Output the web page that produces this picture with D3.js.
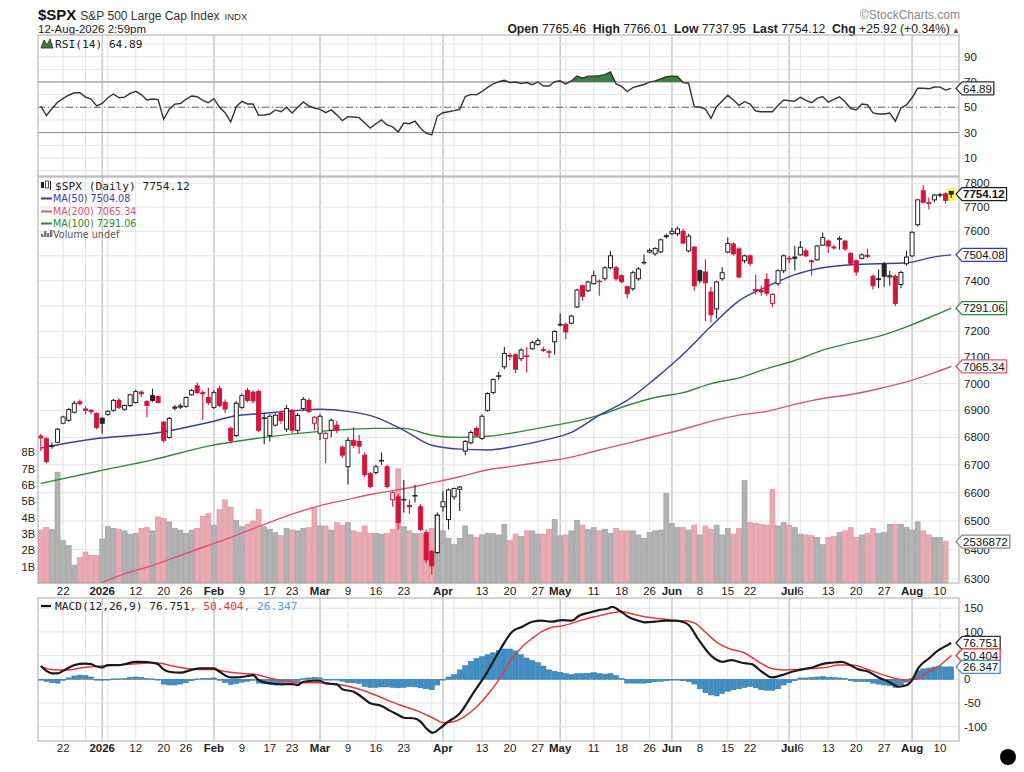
<!DOCTYPE html>
<html>
<head>
<meta charset="utf-8">
<title>$SPX Daily</title>
<script src="https://cdn.jsdelivr.net/npm/d3@7"></script>
<style>
  body { margin: 0; background: #fff; }
  svg { display: block; }
  text { white-space: pre; }
</style>
</head>
<body>
<div class="chart"></div>
<script>
/* Data */

//Trading calendar (the category axis)
var firstDay = "2025-12-16";
var lastDay = "2026-08-12";
var holidays = ["2025-12-25", "2026-01-01", "2026-01-19", "2026-02-16", "2026-04-03", "2026-05-25", "2026-06-19", "2026-07-03"];

//Daily candles: [open, high, low, close]
var ohlc = [
  [6805,6812,6750,6798],[6795,6800,6705,6712],[6770,6782,6758,6768],[6782,6835,6778,6830],[6852,6880,6848,6875],
  [6863,6910,6858,6903],[6893,6935,6888,6926],[6932,6940,6918,6925],[6905,6915,6885,6900],[6900,6905,6885,6895],
  [6889,6892,6830,6837],[6870,6875,6815,6852],[6885,6900,6880,6896],[6900,6942,6895,6937],[6937,6945,6905,6911],
  [6904,6922,6898,6918],[6918,6962,6912,6958],[6929,6978,6925,6970],[6968,6975,6950,6962],[6933,6938,6874,6918],
  [6955,6981,6932,6937],[6951,6955,6925,6929],[6856,6860,6780,6789],[6800,6875,6795,6870],[6908,6920,6900,6912],
  [6912,6925,6905,6916],[6915,6952,6910,6948],[6958,6980,6955,6974],[6992,7004,6960,6966],[6966,6975,6865,6962],
  [6948,6985,6920,6929],[6911,6975,6905,6966],[6981,6992,6912,6918],[6930,6940,6890,6905],[6833,6840,6778,6789],
  [6807,6935,6800,6926],[6911,6962,6905,6955],[6974,6985,6930,6937],[6968,6975,6925,6935],[6970,6978,6820,6826],
  [6872,6890,6775,6870],[6807,6885,6785,6878],[6845,6888,6840,6882],[6890,6900,6850,6862],[6830,6920,6820,6907],
  [6900,6905,6815,6826],[6826,6890,6815,6881],[6907,6950,6900,6941],[6937,6945,6890,6896],[6852,6880,6826,6874],
  [6815,6885,6790,6878],[6796,6820,6707,6815],[6826,6870,6800,6863],[6845,6860,6815,6826],[6764,6770,6725,6735],
  [6693,6800,6630,6789],[6789,6837,6760,6771],[6785,6810,6740,6768],[6735,6745,6655,6665],[6668,6675,6615,6622],
  [6672,6700,6665,6693],[6715,6745,6700,6716],[6693,6700,6615,6622],[6575,6605,6550,6600],[6585,6595,6470,6495],
  [6574,6645,6530,6576],[6555,6575,6525,6550],[6588,6628,6565,6590],[6550,6560,6465,6470],[6460,6470,6355,6365],
  [6394,6400,6315,6345],[6390,6530,6385,6520],[6550,6605,6532,6568],[6505,6615,6470,6610],[6585,6618,6575,6615],
  [6612,6625,6535,6620],[6750,6790,6735,6785],[6780,6825,6775,6818],[6833,6840,6800,6808],[6796,6885,6790,6878],
  [6900,6968,6895,6963],[6967,7020,6960,7016],[7028,7045,7015,7030],[7064,7140,7055,7115],[7108,7118,7090,7104],
  [7110,7115,7040,7055],[7095,7135,7085,7128],[7106,7140,7042,7104],[7133,7165,7128,7157],[7150,7175,7145,7165],
  [7130,7140,7120,7127],[7122,7130,7098,7120],[7160,7205,7110,7200],[7225,7270,7220,7228],[7228,7235,7170,7198],
  [7232,7265,7228,7260],[7296,7368,7292,7363],[7380,7385,7320,7338],[7360,7400,7355,7395],[7388,7440,7385,7420],
  [7398,7405,7340,7396],[7408,7458,7400,7452],[7452,7520,7445,7500],[7452,7460,7400,7408],[7420,7425,7390,7396],
  [7376,7380,7330,7348],[7368,7440,7360,7432],[7408,7455,7400,7447],[7472,7505,7465,7474],[7515,7530,7510,7522],
  [7508,7535,7500,7530],[7516,7570,7510,7565],[7578,7590,7570,7582],[7590,7615,7585,7600],[7590,7620,7580,7610],
  [7600,7610,7548,7552],[7520,7590,7515,7580],[7535,7540,7360,7380],[7440,7445,7390,7400],[7435,7485,7240,7392],
  [7355,7375,7235,7265],[7288,7400,7250,7395],[7408,7455,7400,7432],[7515,7575,7510,7550],[7548,7555,7500,7508],
  [7528,7535,7410,7415],[7480,7505,7470,7500],[7500,7505,7460,7470],[7365,7425,7345,7360],[7362,7380,7340,7355],
  [7405,7430,7340,7350],[7310,7350,7295,7345],[7388,7445,7380,7440],[7440,7505,7430,7500],[7490,7500,7470,7487],
  [7495,7540,7440,7490],[7504,7560,7500,7535],[7520,7530,7495,7500],[7480,7485,7420,7476],[7484,7545,7480,7540],
  [7543,7595,7540,7574],[7560,7565,7510,7540],[7536,7545,7525,7532],[7568,7580,7525,7570],[7560,7565,7520,7528],
  [7510,7515,7460,7470],[7480,7485,7420,7435],[7490,7510,7485,7504],[7502,7530,7490,7498],[7418,7425,7365,7380],
  [7405,7445,7370,7408],[7466,7475,7375,7418],[7415,7440,7380,7420],[7418,7425,7300,7310],[7385,7440,7370,7433],
  [7468,7520,7460,7495],[7500,7600,7495,7596],[7627,7735,7620,7730],[7768,7792,7715,7720],[7718,7740,7690,7715],
  [7730,7755,7720,7750],[7752,7760,7740,7752],[7755,7762,7715,7728.2],[7765.46,7766.01,7737.95,7754.12]
];

//Volume, billions of shares (last day undefined)
var volumes = [
  3.25,3.4,3.3,6.8,2.6,2.3,1.1,1.55,1.9,1.7,
  1.7,2.7,3.45,3.35,3.3,3.2,3.0,3.05,3.35,3.4,
  3.2,4.05,3.95,3.75,3.35,3.25,3.05,3.25,3.35,4.1,
  4.25,3.55,4.5,5.1,4.65,3.85,3.45,3.6,3.8,4.5,
  3.45,3.3,3.1,2.9,3.35,3.25,3.2,3.35,3.4,4.6,
  3.5,3.5,3.25,3.7,3.55,3.7,3.2,3.1,3.5,3.05,
  3.05,3.0,3.05,3.3,7.0,3.45,3.2,3.05,3.05,2.95,
  3.35,4.2,3.2,2.75,2.35,2.75,3.5,2.95,2.8,2.95,
  3.05,3.05,2.95,3.6,2.6,3.0,2.85,3.2,3.2,3.0,
  3.0,3.3,3.9,2.9,2.95,3.2,3.85,3.55,3.3,3.4,
  3.2,3.3,3.05,3.35,3.2,3.2,3.2,2.95,2.75,3.1,
  3.2,3.25,5.5,3.65,3.4,3.4,3.25,3.55,2.95,3.5,
  3.3,3.55,2.95,3.35,3.0,3.35,6.3,3.7,3.65,3.6,
  3.55,5.75,3.5,3.7,3.55,3.4,3.0,2.95,2.9,2.8,
  2.35,2.8,2.85,3.1,3.2,3.4,2.8,2.95,3.05,3.35,
  3.05,3.1,3.6,3.6,3.6,3.4,3.25,3.75,3.2,2.95,
  2.8,2.8,2.55,null
];

//RSI(14), one value per day
var rsiValues = [
  51,43.5,49,54,57,59.5,61.5,61.5,58,56.5,
  51,53,57.5,60.5,57.5,58,61,62.6,60,55.7,
  56.5,56,40.5,48.5,52.5,53,56.3,58.9,58.3,55.5,
  53.6,56.8,50,45.7,38.4,50.5,54.7,52.6,52.6,43.7,
  43.9,44.7,47.9,46.5,50,45.5,50,54.2,51,49.4,
  48.4,45.7,47.9,44,39.4,42.6,42.3,41.8,37.5,33.5,
  37,40,36,34.5,30.5,37.5,37,39,33.5,29.5,
  28.2,43,45.7,46.5,47.3,48.4,58.5,60.2,59.8,62.5,
  65.7,68.5,70.2,71.3,69.5,70,68.8,69.5,67.8,70,
  66.8,66.8,70.2,70.9,68.5,70.8,74.6,73,74.6,74.6,
  75,75.8,78,68.5,66.5,62.3,65.5,66.8,68,69.9,
  70.9,72.5,74.1,74.6,74.3,69.5,69,50.3,50.2,48.5,
  41.3,50.5,55,59.5,55.7,51.5,54.4,52.6,47,46.5,
  46.5,46.5,51.5,55.7,55.2,55,57.9,55.5,53.6,57,
  58.5,54,56.3,58.3,54.4,49,47.9,52.6,52,45.5,
  44.7,44.7,45.5,39,49.5,51.8,57.5,65,65,64.6,
  66,65.9,63.6,64.89
];

//Moving averages read at [day index, value]
var ma50Points = [[0,6761],[10,6796],[20,6814],[30,6855],[35,6880],[40,6889],[45,6898],[50,6904],[55,6896],[60,6874],
  [65,6826],[70,6771],[75,6757],[80,6754],[85,6768],[90,6789],[95,6818],[100,6882],[105,6937],[110,7019],
  [115,7112],[120,7220],[125,7320],[130,7376],[135,7424],[140,7452],[145,7464],[150,7468],[155,7472],[160,7496],[163,7504.08]];
var ma100Points = [[0,6633],[10,6676],[20,6718],[30,6768],[40,6800],[50,6822],[60,6833],[65,6833],[70,6808],[75,6800],
  [80,6804],[85,6818],[90,6837],[95,6856],[100,6882],[105,6918],[110,6948],[115,6966],[120,7000],[125,7022],
  [130,7057],[135,7088],[140,7128],[145,7156],[150,7181],[155,7218],[160,7263],[163,7291.06]];
var ma200Points = [[10,6280],[15,6317],[20,6346],[25,6380],[30,6415],[35,6450],[40,6488],[45,6524],[50,6554],[55,6576],
  [60,6597],[65,6614],[70,6635],[75,6657],[80,6682],[85,6696],[90,6711],[95,6728],[100,6754],[105,6778],
  [110,6804],[115,6830],[120,6859],[125,6882],[130,6896],[135,6922],[140,6944],[145,6959],[150,6981],[155,7007],
  [160,7042],[163,7065.34]];

//MACD(12,26,9) lines read at [day index, value]
var macdPoints = [[0,28],[1,18],[2,12.6],[3,12.6],[4,18],[6,30],[8,33],[9,32],[10,27],[11,25],[12,30],[14,30],[15,32],
  [17,37],[18,37],[20,35],[21,32],[22,21],[23,16],[25,14],[27,20],[28.5,23],[31,23],[32,16],[34,4],[35,4],[37,7],[38,9],
  [39,-1.5],[41,-8.5],[43,-10.5],[45,-10],[46,-12],[47,-5],[49,-3],[50,-3],[51,-8.5],[53,-10.5],[54,-21],[56,-26],[57,-33],
  [59,-50.6],[61,-56],[62.5,-66],[64,-75],[65,-81],[66.7,-82],[68,-89],[69,-103],[70.2,-112.6],[71.5,-103],[72.7,-91.5],
  [75,-72],[77.4,-29.5],[79.8,12.6],[82.2,61.8],[84.4,100.4],[86.2,111],[88,121.5],[89.7,123.6],[91.5,121.5],[93.3,125],
  [95.1,123.6],[96.3,133.5],[98.1,140.5],[99.9,146],[101.7,150],[102.3,153],[103.5,146],[105.3,131],[107,123.6],[108.2,120],
  [110,121.5],[111.8,123.6],[113.6,123.6],[114.8,121.5],[116,114.6],[117.8,83],[120.2,47.7],[122,37],[123.7,40.7],[125.5,35],
  [127.3,32],[129.1,16],[130.9,4],[132.7,9],[134.5,16],[136.3,21],[138.1,25],[139.9,32],[141.6,35],[143.4,37],[144.6,32],
  [146.4,21],[148.2,16],[150,4],[151.8,-5],[153.6,-15.6],[155.1,-12],[156,-1.5],[157.2,25],[159,44],[160.8,62],[162,70],[163,76.751]];
var signalPoints = [[0,28],[1.7,21],[4.7,19.6],[7.6,25],[10.6,28],[13.6,30],[16.6,32.3],[19.6,35],[21.4,33.7],[23.7,28],
  [26.1,23],[28.5,21],[30.9,21],[33.3,16],[35.7,12.6],[38.1,11.2],[40.5,4.2],[43.4,-3],[46.4,-7],[50,-7],[52.4,-10],
  [55.4,-15.5],[58.4,-26],[61.3,-40],[64.3,-54],[67.3,-66],[70.3,-82],[72.1,-91.5],[73.9,-89.4],[76.3,-75],[79.2,-43.6],
  [82.2,2],[84.4,44.3],[86.2,68.8],[88,86.5],[89.7,100.4],[91.5,109.7],[93.3,112.5],[95.1,118],[96.9,125],[98.7,130.8],
  [100.5,135.7],[102.3,140.5],[104.1,142.6],[105.9,137.8],[108.2,132],[110,128.7],[111.8,126.6],[113.6,123.6],[115.4,123.6],
  [117.2,118],[118.9,100.4],[121.3,76],[123.1,65.4],[126.1,55],[128.5,37],[130.9,23],[133.3,19.6],[135.7,21],[138.1,23],
  [140.5,25],[142.9,30],[145.3,30],[147.6,23],[150,12.6],[152.4,4],[154.8,-1.5],[156.6,0],[158.4,12.6],[160.8,28],[163,50.404]];

//MACD histogram, one value per day
var histValues = [
  -1,-4,-7,-8,-2,3,7,9,8,5,
  -1,-2,0,1,1,2,4,5,4,2,
  1,-1,-10,-12,-12,-10,-7,-3,1,2,
  2,3,-2,-7,-11,-9,-6,-4,-2,-8,
  -9,-10,-10,-8,-6,-5,-4,2,3,4,
  3,0,-1,-1,-4,-7,-7,-9,-15,-17,
  -17,-16,-16,-17,-18,-17,-15,-16,-18,-20,
  -22,-12,0,5,10,20,29,38,44,48,
  52,56,61,64,64,60,52,45,40,35,
  28,20,17,15,12,10,12,12,13,14,
  12,11,12,8,2,-8,-8,-8,-8,-7,
  -5,-4,-3,-1,-1,-3,-5,-10,-20,-28,
  -33,-35,-30,-25,-22,-20,-17,-15,-18,-22,
  -23,-23,-20,-12,-7,-3,3,3,4,5,
  6,4,4,3,2,-3,-5,-5,-5,-8,
  -10,-12,-13,-17,-12,-6,2,18,22,24,
  26,27,26,26.347
];

//Tick labels
var dateLabels = [["2025-12-22","22"],["2026-01-02","2026"],["2026-01-12","12"],["2026-01-20","20"],["2026-01-26","26"],
  ["2026-02-02","Feb"],["2026-02-09","9"],["2026-02-17","17"],["2026-02-23","23"],["2026-03-02","Mar"],["2026-03-09","9"],
  ["2026-03-16","16"],["2026-03-23","23"],["2026-04-01","Apr"],["2026-04-13","13"],["2026-04-20","20"],["2026-04-27","27"],
  ["2026-05-01","May"],["2026-05-11","11"],["2026-05-18","18"],["2026-05-26","26"],["2026-06-01","Jun"],["2026-06-08","8"],
  ["2026-06-15","15"],["2026-06-22","22"],["2026-07-01","Jul"],["2026-07-06","6"],["2026-07-13","13"],["2026-07-20","20"],
  ["2026-07-27","27"],["2026-08-03","Aug"],["2026-08-10","10"]];
var priceTicks = [6300,6400,6500,6600,6700,6800,6900,7000,7100,7200,7300,7400,7500,7600,7700,7800];
var volumeTicks = [1,2,3,4,5,6,7,8];
var rsiTicks = [10,30,50,70,90];
var rsiGrid = [0,10,20,30,40,50,60,70,80,90,100];
var macdTicks = [-100,-50,0,50,100,150];

//Header texts
var quoteLabels = ["Open","High","Low","Last","Chg"];
var quoteValues = ["7765.46","7766.01","7737.95","7754.12","+25.92 (+0.34%)"];
var lastValues = { rsi: 64.89, close: 7754.12, ma50: 7504.08, ma100: 7291.06, ma200: 7065.34, volume: 2536872, macd: 76.751, signal: 50.404, hist: 26.347 };


/* Page layout */
var configuration = {
  width: 1024, height: 772,
  left: 38, right: 959,
  rsiTop: 35, rsiBottom: 176,
  priceTop: 177, priceBottom: 583,
  macdTop: 598, macdBottom: 741
};
Object.freeze(configuration);

var SANS = "'Liberation Sans', Arial, sans-serif";
var MONO = "'DejaVu Sans Mono', monospace";
var VERD = "'DejaVu Sans', Verdana, sans-serif";
var RED = "#d3143c";
var DARK = "#222";

var cfg = configuration;
var parseDay = d3.utcParse("%Y-%m-%d");
var fmtDay = d3.utcFormat("%Y-%m-%d");

//Build trading days
var days = d3.utcDay.range(parseDay(firstDay), d3.utcDay.offset(parseDay(lastDay), 1))
  .filter(function(d) { return d.getUTCDay() > 0 && d.getUTCDay() < 6 && holidays.indexOf(fmtDay(d)) < 0; });
var dayIndex = {};
days.forEach(function(d, i) { dayIndex[fmtDay(d)] = i; });

var bars = ohlc.map(function(r, i) {
  var prev = i > 0 ? ohlc[i - 1][3] : r[0];
  return { i: i, o: r[0], h: r[1], l: r[2], c: r[3], down: r[3] < prev, vol: volumes[i] };
});

//Scales
var x = d3.scaleLinear().domain([-0.5, 164.4]).range([cfg.left, cfg.right]);
var yPrice = d3.scaleLog().domain([6286, 7826]).range([cfg.priceBottom, cfg.priceTop]);
var yVol = d3.scaleLinear().domain([0, 24.9]).range([cfg.priceBottom, cfg.priceTop]);
var yRsi = d3.scaleLinear().domain([-4.3, 107.1]).range([cfg.rsiBottom, cfg.rsiTop]);
var yMacd = d3.scaleLinear().domain([-130, 171.5]).range([cfg.macdBottom, cfg.macdTop]);

//Right-edge tags (positions come from the scales), used to hide axis labels they cover
var tags = [
  [yRsi(lastValues.rsi), "64.89", "#333", false],
  [yPrice(lastValues.close), "7754.12", "#222", true],
  [yPrice(lastValues.ma50), "7504.08", "#3b3ba6", false],
  [yPrice(lastValues.ma100), "7291.06", "#2f8a34", false],
  [yPrice(lastValues.ma200), "7065.34", "#e4506b", false],
  [yVol(lastValues.volume / 1e6), "2536872", "#888", false],
  [yMacd(lastValues.macd), "76.751", "#333", false],
  [yMacd(lastValues.signal), "50.404", "#f03535", false],
  [yMacd(lastValues.hist), "26.347", "#4a90c8", false]
];

var svg = d3.select(".chart").append("svg")
  .attr("width", cfg.width).attr("height", cfg.height)
  .style("background-color", "#FFF");
var defs = svg.append("defs");

function clip(id, top, bottom) {
  defs.append("clipPath").attr("id", id).append("rect")
    .attr("x", cfg.left).attr("y", top).attr("width", cfg.right - cfg.left).attr("height", bottom - top);
  return "url(#" + id + ")";
}

function verticalGrid(g, top, bottom) {
  //week lines and month lines at the first trading day
  days.forEach(function(d, i) {
    if (i === 0) return;
    var p = days[i - 1];
    var newMonth = d.getUTCMonth() !== p.getUTCMonth();
    var newWeek = +d3.utcMonday.floor(d) !== +d3.utcMonday.floor(p);
    if (!newMonth && !newWeek) return;
    g.append("line")
      .attr("x1", x(i)).attr("x2", x(i)).attr("y1", top).attr("y2", bottom)
      .attr("stroke", newMonth ? "#c9c9c9" : "#e3e3e3")
      .attr("stroke-width", newMonth ? 1.5 : 1);
  });
}

function horizontalGrid(g, values, scale, color) {
  g.selectAll(null).data(values).enter().append("line")
    .attr("x1", cfg.left).attr("x2", cfg.right)
    .attr("y1", function(d) { return scale(d); }).attr("y2", function(d) { return scale(d); })
    .attr("stroke", color || "#e3e3e3");
}

function rightLabels(values, scale) {
  //skip the labels sitting right under a value tag
  var shown = values.filter(function(v) {
    return !tags.some(function(t) { return Math.abs(t[0] - scale(v)) < 6; });
  });
  svg.append("g").selectAll(null).data(shown).enter().append("text")
    .attr("x", 964).attr("y", function(d) { return scale(d); }).attr("dy", "0.35em")
    .attr("font-family", SANS).attr("font-size", 11.5).attr("fill", DARK)
    .text(function(d) { return d; });
}

function panelFrame(top, bottom) {
  svg.append("rect").attr("x", cfg.left).attr("y", top)
    .attr("width", cfg.right - cfg.left).attr("height", bottom - top)
    .attr("fill", "none").attr("stroke", "#a8a8a8");
}

function valueTag(y, label, stroke, bold) {
  var g = svg.append("g");
  var t = g.append("text").attr("x", 963).attr("y", y).attr("dy", "0.36em")
    .attr("font-family", SANS).attr("font-size", 11.5).attr("fill", "#111")
    .attr("font-weight", bold ? "bold" : "normal").text(label);
  var w = t.node().getComputedTextLength();
  var x0 = 956, x1 = 963 + w + 2;
  g.insert("path", "text")
    .attr("d", "M" + x0 + "," + y + "L" + (x0 + 6) + "," + (y - 6.5) + "H" + x1 + "V" + (y + 6.5) + "H" + (x0 + 6) + "Z")
    .attr("fill", "#fff").attr("stroke", stroke).attr("stroke-width", 1.3);
}

function renderHeader() {
  var sym = svg.append("text").attr("x", 38).attr("y", 20)
    .attr("font-family", SANS).attr("font-size", 15).attr("font-weight", "bold").attr("fill", "#111").text("$SPX");
  var sx = 38 + sym.node().getComputedTextLength() + 4;
  var name = svg.append("text").attr("x", sx).attr("y", 19.5)
    .attr("font-family", SANS).attr("font-size", 12).attr("fill", "#333").text("S&P 500 Large Cap Index");
  var nx = sx + name.node().getComputedTextLength() + 5;
  svg.append("text").attr("x", nx).attr("y", 19.5)
    .attr("font-family", SANS).attr("font-size", 9.5).attr("fill", "#333").text("INDX");
  svg.append("text").attr("x", 38).attr("y", 33)
    .attr("font-family", SANS).attr("font-size", 11.5).attr("fill", "#222").text("12-Aug-2026 2:59pm");
  svg.append("text").attr("x", 960).attr("y", 19).attr("text-anchor", "end")
    .attr("font-family", SANS).attr("font-size", 12).attr("fill", "#888").text("\u00a9StockCharts.com");

  var q = svg.append("text").attr("x", 960).attr("y", 33).attr("text-anchor", "end")
    .attr("font-family", SANS).attr("font-size", 12.2).attr("fill", "#222");
  quoteLabels.forEach(function(lab, k) {
    q.append("tspan").attr("font-weight", "bold").text((k ? "  " : "") + lab);
    q.append("tspan").text(" " + quoteValues[k]);
  });
  q.append("tspan").attr("font-size", 8).attr("fill", "#555").text(" \u25b2");
}

function renderRsi() {
  var g = svg.append("g");
  verticalGrid(g, cfg.rsiTop, cfg.rsiBottom);
  horizontalGrid(g, rsiGrid, yRsi);
  horizontalGrid(g, [30, 70], yRsi, "#8a8a8a");
  g.append("line").attr("x1", cfg.left).attr("x2", cfg.right)
    .attr("y1", yRsi(50)).attr("y2", yRsi(50))
    .attr("stroke", "#666").attr("stroke-dasharray", "7,3,1,3");

  //green fill where RSI is above 70
  var over = clip("rsiOver", cfg.rsiTop, yRsi(70));
  g.append("path").datum(rsiValues)
    .attr("clip-path", over)
    .attr("d", d3.area().x(function(d, i) { return x(i); }).y0(yRsi(70)).y1(function(d) { return yRsi(d); }))
    .attr("fill", "#3f7d45");
  g.append("path").datum(rsiValues)
    .attr("d", d3.line().x(function(d, i) { return x(i); }).y(function(d) { return yRsi(d); }))
    .attr("fill", "none").attr("stroke", "#333").attr("stroke-width", 1.4);

  panelFrame(cfg.rsiTop, cfg.rsiBottom);
  rightLabels(rsiTicks, yRsi);

  //legend
  svg.append("path").attr("d", "M41,48L44,40L47,45L50,39L53,48Z").attr("fill", "#3f7d45").attr("stroke", "#222").attr("stroke-width", 0.8);
  svg.append("text").attr("x", 55).attr("y", 48)
    .attr("font-family", MONO).attr("font-size", 11.2).attr("fill", DARK).text("RSI(14) 64.89");
}

function renderPrice() {
  var g = svg.append("g");
  var clipPrice = clip("priceClip", cfg.priceTop, cfg.priceBottom);
  verticalGrid(g, cfg.priceTop, cfg.priceBottom);
  horizontalGrid(g, priceTicks, yPrice);

  //volume bars behind the candles
  var w = x(1) - x(0);
  g.append("g").selectAll("rect").data(bars.filter(function(b) { return b.vol != null; })).enter().append("rect")
    .attr("x", function(b) { return x(b.i) - w / 2 + 0.3; })
    .attr("width", w - 0.6)
    .attr("y", function(b) { return yVol(b.vol); })
    .attr("height", function(b) { return yVol(0) - yVol(b.vol); })
    .attr("fill", function(b) { return b.down ? "#e9aab3" : "#b2b2b2"; })
    .attr("stroke", function(b) { return b.down ? "#d8919c" : "#9a9a9a"; })
    .attr("stroke-width", 0.6);

  //moving averages
  var maLine = d3.line().x(function(d) { return x(d[0]); }).y(function(d) { return yPrice(d[1]); }).curve(d3.curveMonotoneX);
  var mas = [[ma200Points, "#e4506b"], [ma100Points, "#2f8a34"], [ma50Points, "#3b3ba6"]];
  mas.forEach(function(m) {
    g.append("path").datum(m[0]).attr("clip-path", clipPrice).attr("d", maLine)
      .attr("fill", "none").attr("stroke", m[1]).attr("stroke-width", 1.4);
  });

  //highlight of the last candle
  var last = bars[bars.length - 1];
  g.append("rect").attr("x", x(last.i) - 4.5).attr("y", yPrice(last.h) - 3)
    .attr("width", 9).attr("height", yPrice(last.l) - yPrice(last.h) + 6).attr("fill", "#ffff4d");

  //candles
  var c = g.append("g").selectAll("g").data(bars).enter().append("g");
  c.append("line")
    .attr("x1", function(b) { return x(b.i); }).attr("x2", function(b) { return x(b.i); })
    .attr("y1", function(b) { return yPrice(b.h); }).attr("y2", function(b) { return yPrice(b.l); })
    .attr("stroke", function(b) { return b.down ? RED : DARK; }).attr("stroke-width", 1.1);
  c.append("rect")
    .attr("x", function(b) { return x(b.i) - 2; }).attr("width", 4)
    .attr("y", function(b) { return yPrice(Math.max(b.o, b.c)); })
    .attr("height", function(b) { return Math.max(0.6, Math.abs(yPrice(b.o) - yPrice(b.c))); })
    .attr("fill", function(b) { return b.c < b.o ? (b.down ? RED : DARK) : "#fff"; })
    .attr("stroke", function(b) { return b.down ? RED : DARK; }).attr("stroke-width", 1);

  panelFrame(cfg.priceTop, cfg.priceBottom);
  rightLabels(priceTicks, yPrice);

  //volume labels on the left
  svg.append("g").selectAll(null).data(volumeTicks).enter().append("text")
    .attr("x", 35).attr("y", function(d) { return yVol(d); }).attr("dy", "0.35em").attr("text-anchor", "end")
    .attr("font-family", SANS).attr("font-size", 11).attr("fill", DARK)
    .text(function(d) { return d + "B"; });

  //legend
  var lg = svg.append("g").attr("font-family", VERD).attr("font-size", 9.6);
  lg.append("rect").attr("x", 41).attr("y", 182).attr("width", 3).attr("height", 6).attr("fill", "#222");
  lg.append("rect").attr("x", 45.5).attr("y", 181).attr("width", 3).attr("height", 7).attr("fill", "#fff").attr("stroke", "#222").attr("stroke-width", 0.8);
  lg.append("line").attr("x1", 50.5).attr("x2", 50.5).attr("y1", 181).attr("y2", 190).attr("stroke", "#222");
  lg.append("text").attr("x", 55).attr("y", 190).attr("font-family", MONO).attr("font-size", 11.2).attr("fill", DARK).text("$SPX (Daily) 7754.12");
  var rows = [["MA(50) 7504.08", "#3b3ba6", 202], ["MA(200) 7065.34", "#e4506b", 215], ["MA(100) 7291.06", "#2f8a34", 227]];
  rows.forEach(function(r) {
    lg.append("line").attr("x1", 41).attr("x2", 52).attr("y1", r[2] - 3.5).attr("y2", r[2] - 3.5).attr("stroke", r[1]).attr("stroke-width", 2);
    lg.append("text").attr("x", 53).attr("y", r[2]).attr("fill", r[1]).text(r[0]);
  });
  [3, 6, 4, 7].forEach(function(h, k) {
    lg.append("rect").attr("x", 41 + k * 3).attr("y", 237 - h).attr("width", 2.4).attr("height", h).attr("fill", "#777");
  });
  lg.append("text").attr("x", 53).attr("y", 238).attr("fill", "#555").text("Volume undef");
}

function renderMacd() {
  var g = svg.append("g");
  var clipMacd = clip("macdClip", cfg.macdTop, cfg.macdBottom);
  verticalGrid(g, cfg.macdTop, cfg.macdBottom);
  horizontalGrid(g, macdTicks, yMacd);

  var w = x(1) - x(0);
  g.append("g").selectAll("rect").data(histValues).enter().append("rect")
    .attr("x", function(d, i) { return x(i) - w / 2 + 0.3; })
    .attr("width", w - 0.6)
    .attr("y", function(d) { return yMacd(Math.max(0, d)); })
    .attr("height", function(d) { return Math.max(0.8, Math.abs(yMacd(d) - yMacd(0))); })
    .attr("fill", "#3e8fc6").attr("stroke", "#2b6d9c").attr("stroke-width", 0.5);

  var line = d3.line().x(function(d) { return x(d[0]); }).y(function(d) { return yMacd(d[1]); }).curve(d3.curveMonotoneX);
  g.append("path").datum(signalPoints).attr("clip-path", clipMacd).attr("d", line)
    .attr("fill", "none").attr("stroke", "#f03535").attr("stroke-width", 1.5);
  g.append("path").datum(macdPoints).attr("clip-path", clipMacd).attr("d", line)
    .attr("fill", "none").attr("stroke", "#1a1a1a").attr("stroke-width", 2.2);

  panelFrame(cfg.macdTop, cfg.macdBottom);
  rightLabels(macdTicks, yMacd);

  //legend
  svg.append("line").attr("x1", 41).attr("x2", 51).attr("y1", 606).attr("y2", 606).attr("stroke", "#111").attr("stroke-width", 2.2);
  var t = svg.append("text").attr("x", 55).attr("y", 610).attr("font-family", MONO).attr("font-size", 11.2);
  t.append("tspan").attr("fill", DARK).text("MACD(12,26,9) 76.751");
  t.append("tspan").attr("fill", "#f03535").text(", 50.404");
  t.append("tspan").attr("fill", "#4aa3dc").text(", 26.347");
}

function renderDates(baseline) {
  svg.append("g").selectAll(null).data(dateLabels).enter().append("text")
    .attr("x", function(d) { return x(dayIndex[d[0]]); }).attr("y", baseline)
    .attr("text-anchor", "middle").attr("font-family", SANS).attr("font-size", 11.5).attr("fill", DARK)
    .attr("font-weight", function(d) { return isNaN(+d[1]) || d[1] === "2026" ? "bold" : "normal"; })
    .text(function(d) { return d[1]; });
}

renderHeader();
renderRsi();
renderPrice();
renderMacd();
renderDates(595);
renderDates(752);

//value tags on the right edge
tags.forEach(function(t) { valueTag(t[0], t[1], t[2], t[3]); });

svg.append("circle").attr("cx", 1008).attr("cy", 757).attr("r", 8).attr("fill", "#000");
</script>
</body>
</html>
